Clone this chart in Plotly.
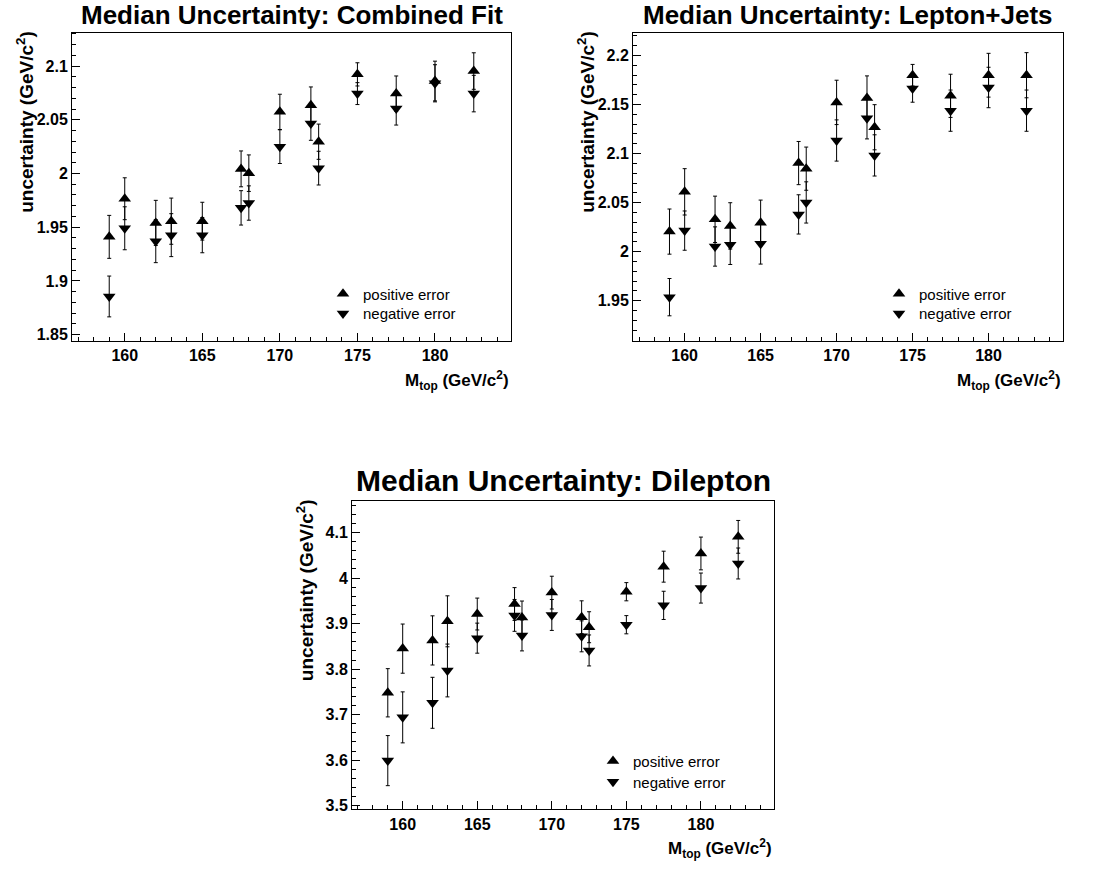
import plotly.graph_objects as go

# Top-quark mass points (GeV/c^2)
mtop = [159, 160, 162, 163, 165, 167.5, 168, 170, 172, 172.5, 175, 177.5, 180, 182.5]

# Combined fit: median positive / negative uncertainty and their errors
comb_pos = [1.941, 1.9765, 1.954, 1.9556, 1.9556, 2.0043, 2.0003, 2.0574, 2.0636, 2.0296, 2.0923, 2.0744, 2.0861, 2.0954]
comb_pos_err = [0.020, 0.0195, 0.021, 0.0215, 0.0176, 0.0167, 0.017, 0.0164, 0.017, 0.0164, 0.0108, 0.0164, 0.0185, 0.017]
comb_neg = [1.8855, 1.949, 1.937, 1.9426, 1.9426, 1.968, 1.9725, 2.025, 2.0466, 2.005, 2.0744, 2.0605, 2.084, 2.0744]
comb_neg_err = [0.019, 0.020, 0.020, 0.020, 0.0164, 0.016, 0.016, 0.0157, 0.0157, 0.0157, 0.0102, 0.0154, 0.0173, 0.017]

# Lepton+jets channel
lj_pos = [2.0205, 2.061, 2.033, 2.0263, 2.0296, 2.0903, 2.0846, 2.1521, 2.1565, 2.1268, 2.1798, 2.1588, 2.1798, 2.1798]
lj_pos_err = [0.023, 0.0236, 0.0236, 0.0236, 0.023, 0.022, 0.022, 0.0226, 0.0226, 0.023, 0.011, 0.022, 0.0223, 0.023]
lj_neg = [1.9537, 2.0215, 2.0053, 2.007, 2.008, 2.038, 2.0502, 2.1133, 2.1359, 2.0981, 2.1663, 2.1437, 2.1673, 2.1437]
lj_neg_err = [0.019, 0.020, 0.020, 0.020, 0.0206, 0.020, 0.021, 0.021, 0.021, 0.021, 0.014, 0.021, 0.0206, 0.021]

# Dilepton channel
dil_pos = [3.748, 3.845, 3.863, 3.905, 3.921, 3.943, 3.9135, 3.968, 3.914, 3.892, 3.970, 4.025, 4.054, 4.0905]
dil_pos_err = [0.053, 0.054, 0.054, 0.056, 0.035, 0.036, 0.036, 0.036, 0.036, 0.034, 0.020, 0.034, 0.036, 0.036]
dil_neg = [3.599, 3.694, 3.726, 3.797, 3.868, 3.918, 3.874, 3.919, 3.872, 3.841, 3.8975, 3.940, 3.978, 4.032]
dil_neg_err = [0.055, 0.056, 0.056, 0.058, 0.033, 0.035, 0.034, 0.034, 0.034, 0.034, 0.020, 0.031, 0.033, 0.034]

titles = ["Median Uncertainty: Combined Fit", "Median Uncertainty: Lepton+Jets", "Median Uncertainty: Dilepton"]
pos_label = "positive error"
neg_label = "negative error"

W, H = 1100, 873
FONT = "Liberation Sans, Arial, Helvetica, sans-serif"

# panel frames in pixels: (left, right, top, bottom)
frames = [(72, 511, 33, 343), (633, 1063, 33, 343), (352, 774, 504, 814)]
yranges = [(1.844, 2.131), (1.909, 2.223), (3.492, 4.169)]
ydticks = [0.05, 0.05, 0.1]
yminor = [0.01, 0.01, 0.02]
xrange_ = (156.6, 184.9)

panels = [
    (comb_pos, comb_pos_err, comb_neg, comb_neg_err),
    (lj_pos, lj_pos_err, lj_neg, lj_neg_err),
    (dil_pos, dil_pos_err, dil_neg, dil_neg_err),
]

# top-left corners of the per-entry legend boxes (pixels): (x, y_pos, y_neg)
legend_pos = [(323, 279, 299), (879, 279, 299), (593, 749, 770)]

fig = go.Figure()
layout = dict(
    width=W, height=H, autosize=False,
    margin=dict(l=0, r=0, t=0, b=0),
    paper_bgcolor="white", plot_bgcolor="white",
    font=dict(family=FONT, color="black"),
    showlegend=True,
)
annotations = []
nleg = 0

for i, (pv, pe, nv, ne) in enumerate(panels):
    k = "" if i == 0 else str(i + 1)
    l, r, t, b = frames[i]
    xd = [l / W, r / W]
    yd = [1 - b / H, 1 - t / H]
    lx, ly_pos, ly_neg = legend_pos[i]
    for vals, errs, sym, name, ly in ((pv, pe, "triangle-up", pos_label, ly_pos),
                                      (nv, ne, "triangle-down", neg_label, ly_neg)):
        nleg += 1
        lname = "legend" if nleg == 1 else "legend%d" % nleg
        fig.add_trace(go.Scatter(
            x=mtop, y=vals, mode="markers", name=name,
            xaxis="x" + k, yaxis="y" + k, legend=lname,
            marker=dict(symbol=sym, size=11, color="black"),
            error_y=dict(type="data", array=errs, visible=True,
                         color="black", thickness=1, width=2),
        ))
        layout[lname] = dict(
            x=lx / W, y=1 - ly / H, xanchor="left", yanchor="top",
            bgcolor="rgba(0,0,0,0)", borderwidth=0,
            font=dict(family=FONT, size=15, color="black"),
            itemclick=False,
        )
    axcommon = dict(
        showgrid=False, zeroline=False, showline=True, linecolor="black",
        linewidth=1, mirror=True, ticks="inside", tickcolor="black",
        tickfont=dict(family=FONT, size=16, weight="bold", color="black"),
    )
    layout["xaxis" + k] = dict(
        axcommon, domain=xd, range=list(xrange_), anchor="y" + k,
        tick0=160, dtick=5, ticklen=8,
        minor=dict(dtick=1, ticks="inside", ticklen=4, tickcolor="black"),
    )
    layout["yaxis" + k] = dict(
        axcommon, domain=yd, range=list(yranges[i]), anchor="x" + k,
        dtick=ydticks[i], tick0=0, ticklen=8,
        minor=dict(dtick=yminor[i], ticks="inside", ticklen=4, tickcolor="black"),
    )
    # title
    tsize = 26 if i < 2 else 30
    annotations.append(dict(
        text="<b>%s</b>" % titles[i], xref="paper", yref="paper",
        x=(l + r) / 2 / W, y=1 - (t - 18 if i < 2 else t - 21) / H,
        xanchor="center", yanchor="middle", showarrow=False,
        font=dict(family=FONT, size=tsize, color="black"),
    ))
    # x axis title
    annotations.append(dict(
        text="<b>M<sub>top</sub> (GeV/c<sup>2</sup>)</b>", xref="paper", yref="paper",
        x=r / W, y=1 - (b + 25) / H, xanchor="right", yanchor="top",
        showarrow=False, font=dict(family=FONT, size=17, color="black"),
    ))
    # y axis title
    annotations.append(dict(
        text="<b>uncertainty (GeV/c<sup>2</sup>)</b>", xref="paper", yref="paper",
        x=(l - 47) / W, y=1 - (t - 4) / H, xanchor="center", yanchor="top",
        textangle=-90, showarrow=False,
        font=dict(family=FONT, size=19, color="black"),
    ))

layout["annotations"] = annotations
fig.update_layout(**layout)
fig.write_html("out.html")
